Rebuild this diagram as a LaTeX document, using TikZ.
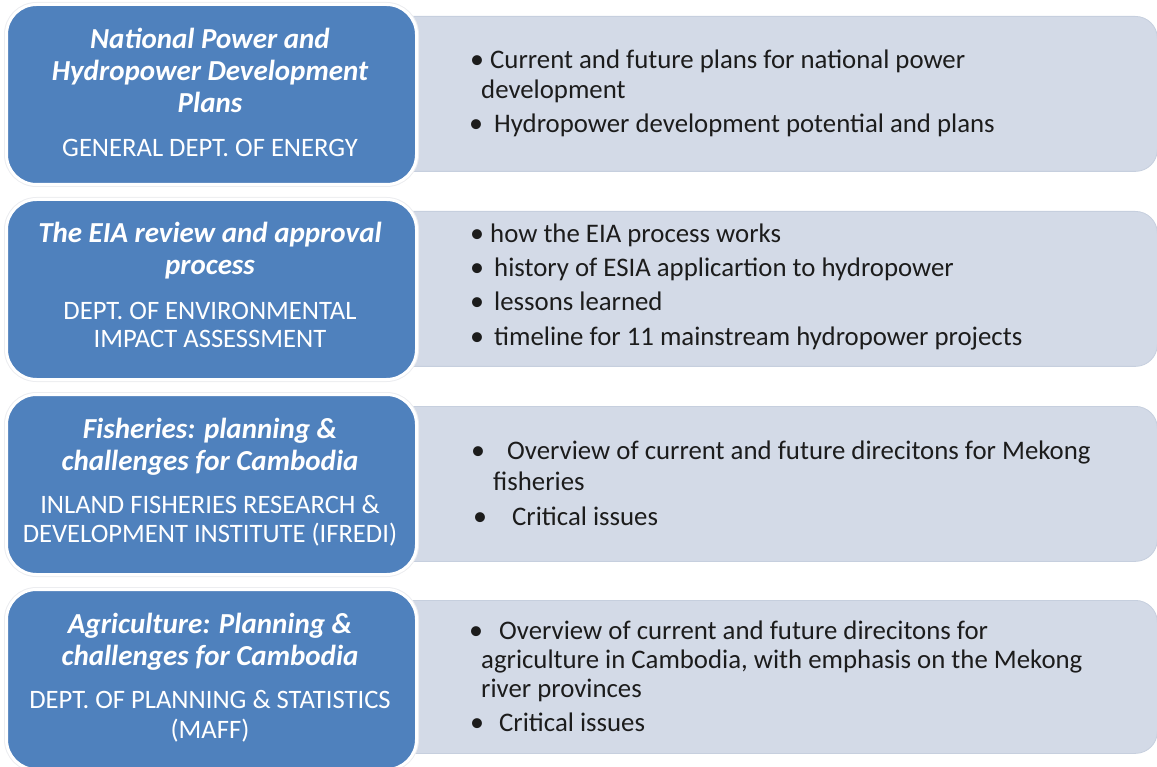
\documentclass[tikz,border=0pt]{standalone}
\usepackage{fontspec}
\setmainfont{Carlito}
\definecolor{boxblue}{HTML}{4F81BD}
\definecolor{panelfill}{HTML}{D3DAE7}
\definecolor{panelrim}{HTML}{C6CFDE}
\definecolor{halo}{HTML}{ECEDF0}
\definecolor{ink}{HTML}{1C1C1C}
\begin{document}
\begin{tikzpicture}[x=1pt,y=-1pt,
  panelbox/.style={anchor=north west, fill=panelfill, draw=panelrim, line width=0.8pt,
    rounded corners=22pt, minimum width=777pt, minimum height=155pt, inner sep=0pt},
  titlebox/.style={anchor=north west, fill=boxblue, draw=white, line width=3pt,
    rounded corners=30pt, minimum width=410pt, minimum height=180pt, inner sep=0pt,
    preaction={draw=halo, line width=5pt}},
  ttl/.style={anchor=base, inner sep=0pt, text=white,
    font=\fontsize{29}{32}\selectfont\bfseries\itshape},
  dept/.style={anchor=base, inner sep=0pt, text=white,
    font=\fontsize{26.6}{29}\selectfont},
  body/.style={anchor=base west, inner sep=0pt, text=ink,
    font=\fontsize{26.8}{30}\selectfont},
  blt/.style={anchor=base, inner sep=0pt, text=ink,
    font=\fontsize{28}{30}\selectfont}]
\useasboundingbox (0,0) rectangle (1157,767);

% detail panels (their left ends sit behind the blue boxes)
\node[panelbox] (p1) at (380,16) {};
\node[panelbox] (p2) at (380,211) {};
\node[panelbox] (p3) at (380,406) {};
\node[panelbox, minimum height=153pt] (p4) at (380,600) {};

% topic boxes
\node[titlebox] (k1) at (5,3) {};
\node[titlebox] (k2) at (5,198) {};
\node[titlebox] (k3) at (5,393) {};
\node[titlebox] (k4) at (5,588) {};

% row 1
\node[ttl] (t1a) at (210,49) {National Power and};
\node[ttl] (t1b) at (210,81) {Hydropower Development};
\node[ttl] (t1c) at (210,113) {Plans};
\node[dept] (d1a) at (210,157) {GENERAL DEPT. OF ENERGY};
\node[blt] (b1a) at (477,69) {•};
\node[body] (l1a) at (490,69) {Current and future plans for national power};
\node[body] (l1b) at (481,99) {development};
\node[blt] (b1b) at (476,133) {•};
\node[body] (l1c) at (494,133) {Hydropower development potential and plans};

% row 2
\node[ttl] (t2a) at (210,243) {The EIA review and approval};
\node[ttl] (t2b) at (210,275) {process};
\node[dept] (d2a) at (210,320) {DEPT. OF ENVIRONMENTAL};
\node[dept] (d2b) at (210,348) {IMPACT ASSESSMENT};
\node[blt] (b2a) at (477,243) {•};
\node[body] (l2a) at (490,243) {how the EIA process works};
\node[blt] (b2b) at (477,277) {•};
\node[body] (l2b) at (494,277) {history of ESIA applicartion to hydropower};
\node[blt] (b2c) at (477,311) {•};
\node[body] (l2c) at (494,311) {lessons learned};
\node[blt] (b2d) at (477,345) {•};
\node[body] (l2d) at (494,345) {timeline for 11 mainstream hydropower projects};

% row 3
\node[ttl] (t3a) at (210,438) {Fisheries: planning \&};
\node[ttl] (t3b) at (210,470) {challenges for Cambodia};
\node[dept] (d3a) at (210,513) {INLAND FISHERIES RESEARCH \&};
\node[dept] (d3b) at (210,542) {DEVELOPMENT INSTITUTE (IFREDI)};
\node[blt] (b3a) at (478,459) {•};
\node[body] (l3a) at (507,459) {Overview of current and future direcitons for Mekong};
\node[body] (l3b) at (493,490) {fisheries};
\node[blt] (b3b) at (480,525) {•};
\node[body] (l3c) at (512,525) {Critical issues};

% row 4
\node[ttl] (t4a) at (210,633) {Agriculture: Planning \&};
\node[ttl] (t4b) at (210,665) {challenges for Cambodia};
\node[dept] (d4a) at (210,708) {DEPT. OF PLANNING \& STATISTICS};
\node[dept] (d4b) at (210,738) {(MAFF)};
\node[blt] (b4a) at (476,639) {•};
\node[body] (l4a) at (499,639) {Overview of current and future direcitons for};
\node[body] (l4b) at (481,668) {agriculture in Cambodia, with emphasis on the Mekong};
\node[body] (l4c) at (481,697) {river provinces};
\node[blt] (b4b) at (477,731) {•};
\node[body] (l4d) at (499,731) {Critical issues};
\end{tikzpicture}
\end{document}
